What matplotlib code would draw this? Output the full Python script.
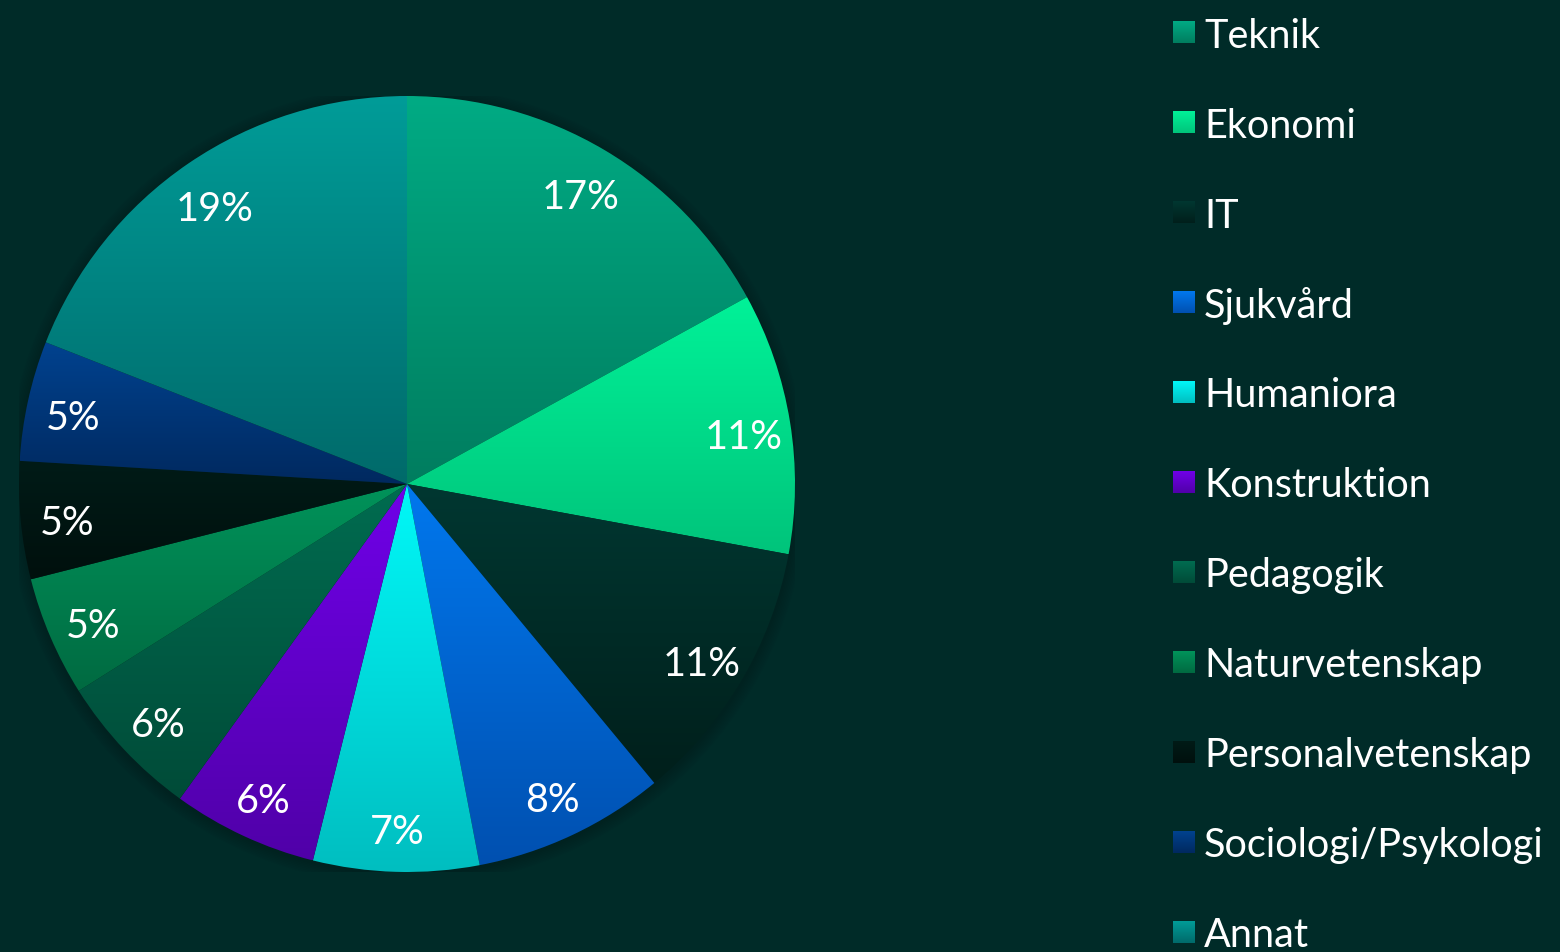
import numpy as np
import matplotlib
matplotlib.use("Agg")
import matplotlib.pyplot as plt
from matplotlib.colors import to_rgb
from matplotlib.patches import Circle

categories = ["Teknik", "Ekonomi", "IT", "Sjukvård", "Humaniora", "Konstruktion",
              "Pedagogik", "Naturvetenskap", "Personalvetenskap",
              "Sociologi/Psykologi", "Annat"]
values = [17.0, 10.9, 11.1, 8.0, 6.9, 6.05, 6.1, 5.0, 4.9, 5.0, 19.05]
top_colors = ["#00ab84", "#00f298", "#003731", "#0078ee", "#00f8f8", "#7000e8",
              "#006c50", "#00935a", "#001b17", "#00428f", "#009c98"]
bot_colors = ["#007d5f", "#00c47b", "#001f1b", "#0050b0", "#00bec0", "#5000a8",
              "#004b38", "#006a41", "#00100d", "#00295f", "#006a6a"]

BG = "#002b28"
W, H = 1560, 953
fig = plt.figure(figsize=(W / 100, H / 100), dpi=100, facecolor=BG)

cx, cy, R = 407, 485, 388
ax = fig.add_axes([(cx - R) / W, (H - cy - R) / H, 2 * R / W, 2 * R / H])
ax.set_facecolor("none")
ax.axis("off")

# soft shadow
for i in range(8):
    ax.add_patch(Circle((0.0, -0.004), 1 + 0.004 * (8 - i), color="black",
                        alpha=0.025, zorder=0, lw=0))

wedges, texts, autotexts = ax.pie(values, startangle=90, counterclock=False,
                                  radius=1, autopct="%.0f%%", pctdistance=0.88,
                                  wedgeprops=dict(linewidth=0),
                                  textprops=dict(color="white", fontsize=28.5,
                                                 family="Lato"))

def grad_img(c1, c2, n=256):
    a = np.array(to_rgb(c1))
    b = np.array(to_rgb(c2))
    t = np.linspace(0, 1, n)[:, None]
    return (a * (1 - t) + b * t)[:, None, :]

for w, c1, c2 in zip(wedges, top_colors, bot_colors):
    w.set_facecolor("none")
    ext = w.get_path().transformed(w.get_patch_transform()).get_extents()
    im = ax.imshow(grad_img(c1, c2), extent=[ext.x0, ext.x1, ext.y0, ext.y1],
                   origin="upper", aspect="auto", zorder=1, interpolation="bilinear")
    im.set_clip_path(w)
for t in autotexts:
    t.set_zorder(5)
    x, y = t.get_position()
    t.set_position((x, y - 0.017))
ax.set_xlim(-1, 1)
ax.set_ylim(-1, 1)

# legend
lax = fig.add_axes([0, 0, 1, 1])
lax.axis("off")
lax.set_facecolor("none")
for i, (name, c1, c2) in enumerate(zip(categories, top_colors, bot_colors)):
    yc = 33 + 90 * i
    lax.imshow(grad_img(c1, c2), extent=[1173, 1195, yc + 11, yc - 11],
               aspect="auto", interpolation="bilinear")
    lax.text(1204, yc + 3, name, color="white", fontsize=28.5, family="Lato",
             va="center", ha="left")
lax.set_xlim(0, W)
lax.set_ylim(H, 0)

fig.savefig("out.png", dpi=100, facecolor=BG)
